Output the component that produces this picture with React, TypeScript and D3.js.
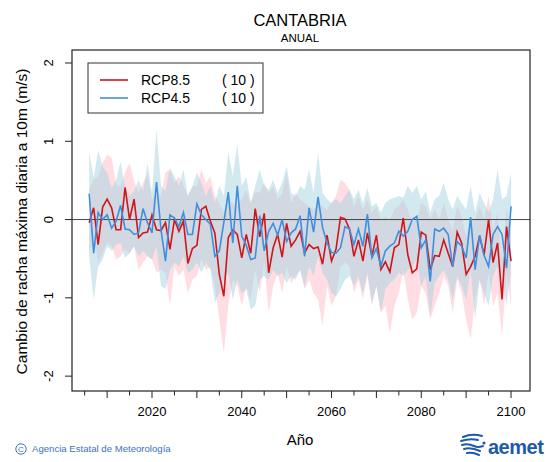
import * as d3 from 'd3';

const W = 550;
const H = 462;

const years = d3.range(2006, 2101);

// ensemble mean, RCP8.5
const rcp85 = [
  -0.04, 0.15, -0.32, 0.16, 0.26, 0.15, -0.13, -0.13, 0.41, 0.0,
  0.26, -0.23, -0.17, -0.16, 0.06, -0.13, -0.14, -0.04, -0.38, 0.0,
  -0.15, -0.02, -0.56, -0.37, -0.33, 0.13, 0.17, -0.02, -0.17, -0.7,
  -0.98, -0.23, -0.13, -0.19, -0.49, -0.19, -0.43, 0.14, -0.22, 0.08,
  -0.68, -0.36, -0.19, -0.48, -0.05, -0.34, -0.26, -0.15, -0.43, -0.32,
  -0.37, -0.35, -0.57, -0.2, -0.53, -0.38, 0.03, 0.01, -0.12, -0.47,
  -0.26, -0.53, -0.17, -0.47, -0.2, -0.64, -0.54, -0.67, -0.36, -0.32,
  0.02, -0.45, -0.68, -0.63, -0.16, -0.2, -0.64, -0.46, -0.47, -0.26,
  -0.43, -0.6, -0.16, -0.3, -0.7, -0.6, -0.47, -0.21, -0.45, 0.0,
  -0.55, -0.3, -1.02, -0.09, -0.53,
];
const hi85 = [
  0.38, 0.51, 0.55, 0.72, 0.83, 0.79, 0.45, 0.43, 0.6, 0.72,
  0.49, 0.34, 0.47, 0.57, 0.26, 0.36, 0.3, 0.6, 0.64, 0.47,
  0.55, 0.43, 0.3, 0.43, 0.43, 0.64, 0.47, 0.55, 0.3, 0.21,
  0.09, 0.26, 0.21, 0.17, 0.26, 0.38, 0.21, 0.36, 0.34, 0.47,
  0.34, 0.43, 0.26, 0.34, 0.6, 0.21, 0.34, 0.26, 0.21, 0.17,
  0.13, 0.21, 0.17, 0.13, 0.21, 0.3, 0.51, 0.47, 0.38, 0.17,
  0.3, 0.13, 0.26, 0.09, 0.17, 0.0, 0.04, 0.0, 0.13, 0.17,
  0.26, 0.13, -0.04, 0.0, 0.21, 0.17, 0.0, 0.13, 0.0, 0.21,
  0.0, -0.13, 0.17, 0.04, -0.21, 0.0, 0.0, 0.17, 0.0, 0.3,
  -0.13, 0.09, -0.51, 0.13, -0.17,
];
const lo85 = [
  -0.43, -0.21, -0.55, -0.43, -0.3, -0.34, -0.51, -0.47, -0.38, -0.43,
  -0.34, -0.64, -0.55, -0.47, -0.51, -0.68, -0.64, -0.68, -1.1, -0.6,
  -0.72, -0.64, -0.94, -0.77, -0.72, -0.51, -0.64, -0.6, -0.85, -1.28,
  -1.7, -1.1, -0.77, -0.85, -1.1, -0.85, -1.02, -0.64, -0.94, -0.55,
  -1.19, -0.85, -0.68, -0.94, -0.6, -0.81, -0.72, -0.64, -0.89, -0.77,
  -0.94, -1.02, -1.36, -0.85, -1.1, -0.98, -0.6, -0.55, -0.6, -0.94,
  -0.77, -1.02, -0.72, -1.1, -0.85, -1.19, -1.1, -1.45, -1.1, -0.94,
  -0.64, -1.02, -1.28, -1.19, -0.85, -0.94, -1.28, -1.1, -0.94, -0.72,
  -0.85, -1.19, -0.77, -0.94, -1.28, -1.53, -1.02, -0.77, -1.1, -0.68,
  -1.1, -0.94, -1.49, -0.68, -1.1,
];

// ensemble mean, RCP4.5
const rcp45 = [
  0.33, -0.43, 0.09, 0.0, 0.06, -0.11, -0.02, 0.18, -0.12, -0.13,
  -0.19, -0.17, 0.14, -0.04, -0.17, 0.48, -0.13, -0.53, 0.06, 0.02,
  -0.09, 0.09, -0.19, -0.19, 0.2, 0.06, 0.0, -0.06, -0.47, -0.4,
  -0.04, 0.35, -0.3, 0.43, -0.21, -0.33, -0.51, -0.49, 0.05, -0.4,
  -0.15, -0.05, -0.2, 0.0, -0.28, -0.17, -0.12, 0.05, -0.47, 0.15,
  -0.16, 0.29, -0.1, -0.3, -0.42, -0.43, -0.36, -0.09, -0.12, -0.32,
  -0.12, -0.34, 0.07, -0.49, -0.37, -0.6, -0.4, -0.34, -0.3, -0.15,
  -0.21, -0.15, 0.0, 0.04, -0.36, -0.26, -0.79, -0.12, -0.15, -0.11,
  -0.19, -0.6, -0.28, -0.34, -0.49, 0.03, -0.64, -0.2, -0.46, -0.6,
  -0.19, -0.09, -0.19, -0.62, 0.17,
];
const hi45 = [
  0.87, 0.53, 0.89, 0.68, 0.6, 0.4, 0.51, 0.74, 0.4, 0.3,
  0.36, 0.51, 0.36, 0.72, 0.34, 1.15, 0.43, 0.36, 0.66, 0.55,
  0.43, 0.64, 0.3, 0.43, 0.6, 0.47, 0.3, 0.43, 0.21, 0.43,
  0.3, 0.87, 0.55, 0.96, 0.43, 0.55, 0.21, 0.43, 0.64, 0.43,
  0.38, 0.51, 0.34, 0.47, 0.68, 0.34, 0.3, 0.43, 0.38, 0.64,
  0.34, 0.85, 0.34, 0.26, 0.21, 0.26, 0.21, 0.3, 0.38, 0.26,
  0.38, 0.21, 0.4, 0.17, 0.21, 0.09, 0.21, 0.26, 0.28, 0.3,
  0.28, 0.43, 0.34, 0.43, 0.26, 0.36, 0.09, 0.26, 0.3, 0.47,
  0.26, 0.13, 0.3, 0.21, 0.13, 0.43, 0.09, 0.34, 0.21, 0.09,
  0.26, 0.64, 0.26, 0.3, 0.6,
];
const lo45 = [
  -0.47, -1.02, -0.6, -0.51, -0.34, -0.4, -0.32, -0.3, -0.49, -0.43,
  -0.34, -0.47, -0.4, -0.47, -0.51, -0.34, -0.85, -0.89, -0.64, -0.55,
  -0.6, -0.47, -0.68, -0.64, -0.55, -0.68, -0.55, -0.64, -1.06, -0.94,
  -0.77, -0.68, -1.02, -0.77, -0.94, -0.89, -1.15, -1.1, -0.77, -0.72,
  -0.77, -0.64, -0.72, -0.68, -0.81, -0.72, -0.77, -0.64, -0.85, -0.6,
  -0.72, -0.47, -0.68, -0.77, -0.94, -0.98, -0.89, -0.77, -0.72, -0.85,
  -0.72, -0.94, -0.68, -1.06, -0.85, -1.19, -0.89, -0.81, -0.77, -0.68,
  -0.72, -0.64, -0.6, -0.51, -0.85, -0.72, -1.23, -0.81, -0.72, -0.64,
  -0.77, -1.02, -0.72, -0.85, -1.02, -0.64, -1.28, -0.77, -0.94, -1.1,
  -0.72, -0.6, -0.68, -1.1, -0.6,
];

const yTicks = [-2, -1, 0, 1, 2];
const xTicks = d3.range(2005, 2101, 5);
const xLabels = [2020, 2040, 2060, 2080, 2100];
const legendItems = [
  { name: 'RCP8.5', n: 10, color: '#d0141a' },
  { name: 'RCP4.5', n: 10, color: '#3f8fde' },
];

const FONT = '"Liberation Sans", Arial, Helvetica, sans-serif';
const L = 72, R = 530, T = 50, B = 391;

const x = d3.scaleLinear([2002.17, 2104.23], [L, R]);
const y = d3.scaleLinear([-2.19, 2.166], [B, T]);

const band = (hi: number[], lo: number[]) =>
  d3.area<number>()
    .x((_, i) => x(years[i]))
    .y0((_, i) => y(lo[i]))
    .y1((_, i) => y(hi[i]))(years) ?? '';

const line = (v: number[]) =>
  d3.line<number>()
    .x((_, i) => x(years[i]))
    .y((_, i) => y(v[i]))(years) ?? '';

export default function App() {
  return (
    <svg width={W} height={H} style={{ position: 'absolute', left: 0, top: 0, background: '#fff' }}
      fontFamily={FONT}>
      <text x={300} y={26} textAnchor="middle" fontSize={16.5}>CANTABRIA</text>
      <text x={300} y={42} textAnchor="middle" fontSize={11.5}>ANUAL</text>

      {/* bands */}
      <path d={band(hi85, lo85)} fill="#ffb3c1" fillOpacity={0.45} />
      <path d={band(hi45, lo45)} fill="#a6d4e2" fillOpacity={0.5} />

      <line x1={L} x2={R} y1={y(0)} y2={y(0)} stroke="#444" strokeWidth={1} />

      <path d={line(rcp85)} fill="none" stroke={legendItems[0].color} strokeWidth={1.6} />
      <path d={line(rcp45)} fill="none" stroke={legendItems[1].color} strokeWidth={1.6} />

      <rect x={L} y={T} width={R - L} height={B - T} fill="none" stroke="#222" strokeWidth={1.2} />

      {/* y axis */}
      {yTicks.map(t => (
        <g key={t}>
          <line x1={L - 7} x2={L} y1={y(t)} y2={y(t)} stroke="#222" />
          <text transform={`translate(53,${y(t)}) rotate(-90)`} textAnchor="middle" fontSize={13}>{t}</text>
        </g>
      ))}
      <text transform={`translate(27,${(T + B) / 2 + 1}) rotate(-90)`} textAnchor="middle" fontSize={15.5}>
        Cambio de racha máxima diaria a 10m (m/s)
      </text>

      {/* x axis */}
      {xTicks.map(t => (
        <line key={t} x1={x(t)} x2={x(t)} y1={B} y2={B + (t % 10 === 0 ? 7 : 4.5)} stroke="#222" />
      ))}
      {xLabels.map(t => (
        <text key={t} x={x(t)} y={416} textAnchor="middle" fontSize={13}>{t}</text>
      ))}
      <text x={300} y={445} textAnchor="middle" fontSize={15}>Año</text>

      {/* legend */}
      <rect x={88} y={63} width={175} height={50} fill="#fff" stroke="#333" strokeWidth={1} />
      {legendItems.map((d, i) => (
        <g key={d.name}>
          <line x1={100} x2={128} y1={80 + i * 18} y2={80 + i * 18} stroke={d.color} strokeWidth={1.6} />
          <text x={141} y={85 + i * 18} fontSize={14}>{d.name}</text>
          <text x={222} y={85 + i * 18} fontSize={14}>{`( ${d.n} )`}</text>
        </g>
      ))}

      {/* footer */}
      <circle cx={21} cy={449} r={5.2} fill="none" stroke="#3d72bd" strokeWidth={1} />
      <text x={21} y={452.2} textAnchor="middle" fontSize={8} fill="#3d72bd">C</text>
      <text x={32} y={452} fontSize={9.6} fill="#3d72bd">Agencia Estatal de Meteorología</text>

      <g stroke="#1d5aa8" strokeWidth={2} strokeLinecap="round" fill="none">
        <path d="M463,437 Q472,433 482,436" />
        <path d="M461,441 Q470,438 478,440" />
        <path d="M462,445 Q468,443 474,446 Q478,448 483,446" />
        <path d="M464,449 Q471,447 480,451" />
        <path d="M467,453 Q473,452 479,455" />
      </g>
      <circle cx={484} cy={443} r={1.6} fill="#1d5aa8" />
      <text x={488} y={454} fontSize={20} fontWeight="bold" fill="#1d5aa8" letterSpacing={-0.5}>aemet</text>
    </svg>
  );
}
